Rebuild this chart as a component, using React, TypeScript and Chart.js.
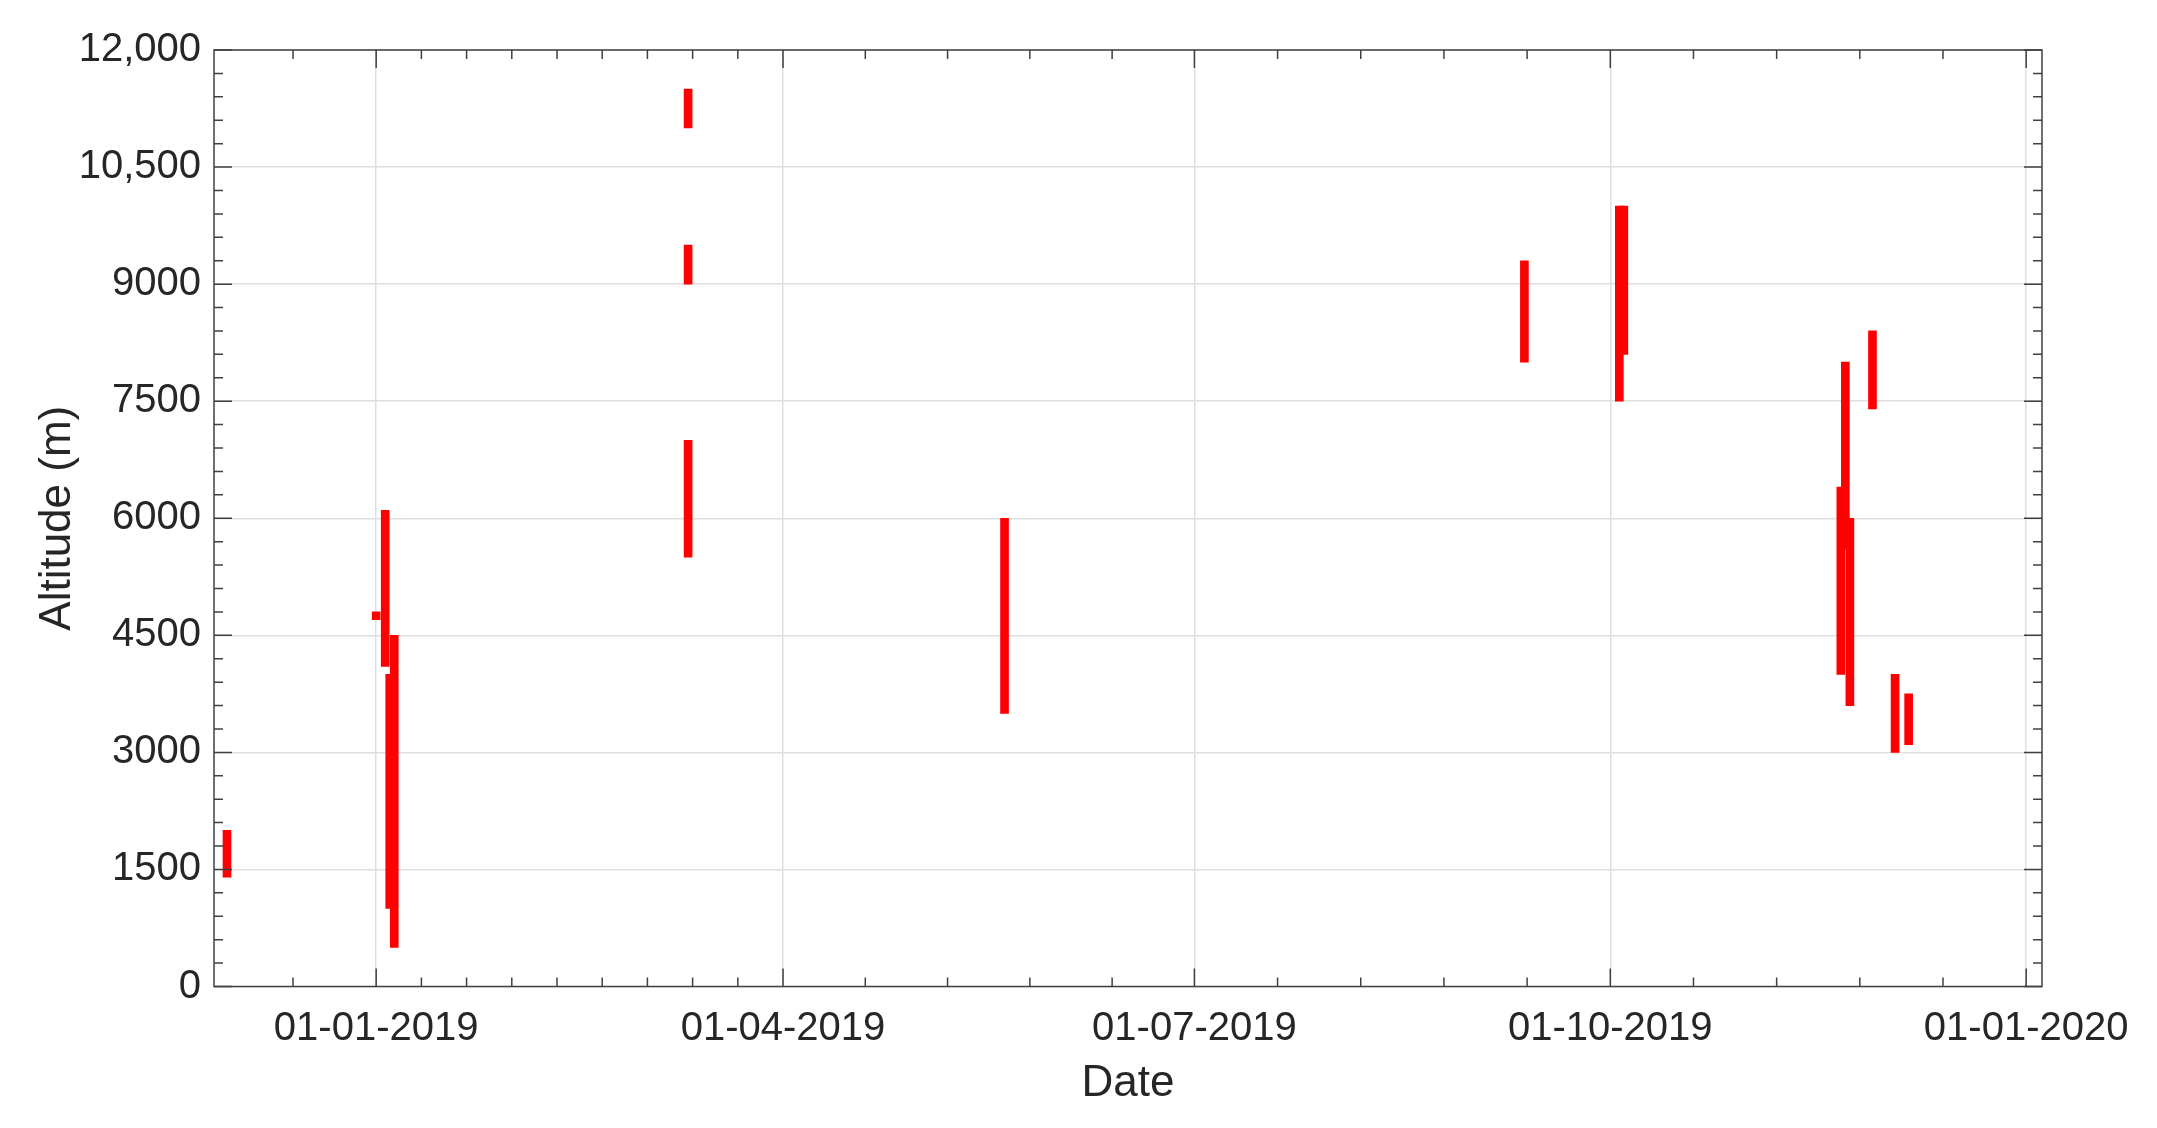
import { useEffect, useRef } from 'react';
import { Chart, registerables } from 'chart.js';

Chart.register(...registerables);

// one red bar per sounding: date, lowest and highest altitude (m)
const barDates = [
  '2018-11-29', '2019-01-01', '2019-01-03', '2019-01-04', '2019-01-05',
  '2019-03-11', '2019-03-11', '2019-03-11', '2019-05-20', '2019-09-12',
  '2019-10-03', '2019-10-04', '2019-11-21', '2019-11-22', '2019-11-23',
  '2019-11-28', '2019-12-03', '2019-12-06',
];
const altLow = [1400, 4700, 4100, 1000, 500, 11000, 9000, 5500, 3500, 8000, 7500, 8100, 4000, 5600, 3600, 7400, 3000, 3100];
const altHigh = [2000, 4800, 6100, 4000, 4500, 11500, 9500, 7000, 6000, 9300, 10000, 10000, 6400, 8000, 6000, 8400, 4000, 3750];

const yTicks = [0, 1500, 3000, 4500, 6000, 7500, 9000, 10500, 12000];
const yTickLabels = ['0', '1500', '3000', '4500', '6000', '7500', '9000', '10,500', '12,000'];
const xTickDates = ['2019-01-01', '2019-04-01', '2019-07-01', '2019-10-01', '2020-01-01'];
const xTickLabels = ['01-01-2019', '01-04-2019', '01-07-2019', '01-10-2019', '01-01-2020'];
const xLimits = ['2018-11-26T03:00', '2020-01-04T12:00'];

// quarter boundaries and how many minor steps each quarter gets
const quarterStarts = ['2018-10-01', '2019-01-01', '2019-04-01', '2019-07-01', '2019-10-01', '2020-01-01'];
const minorSteps = [5, 9, 5, 5, 5];

const ORIGIN = Date.UTC(2019, 0, 1);
const toDay = (s: string) => (Date.parse(s.length === 10 ? s : s + 'Z') - ORIGIN) / 86400000;

const TEXT = '#262626';
const AXIS = '#404040';

const axesBox = {
  id: 'axesBox',
  afterDatasetsDraw(chart: any) {
    const { ctx, chartArea: a, scales } = chart;
    const xs = scales.x;
    const ys = scales.y;
    ctx.save();
    ctx.strokeStyle = AXIS;
    ctx.lineWidth = 1.5;
    ctx.strokeRect(a.left, a.top, a.right - a.left, a.bottom - a.top);
    ctx.beginPath();
    const tickX = (v: number, len: number) => {
      const px = xs.getPixelForValue(v);
      if (px < a.left + 1 || px > a.right - 1) return;
      ctx.moveTo(px, a.bottom);
      ctx.lineTo(px, a.bottom - len);
      ctx.moveTo(px, a.top);
      ctx.lineTo(px, a.top + len);
    };
    const tickY = (v: number, len: number) => {
      const py = ys.getPixelForValue(v);
      ctx.moveTo(a.left, py);
      ctx.lineTo(a.left + len, py);
      ctx.moveTo(a.right, py);
      ctx.lineTo(a.right - len, py);
    };
    xTickDates.forEach((d) => tickX(toDay(d), 18));
    for (let q = 0; q < minorSteps.length; q++) {
      const d0 = toDay(quarterStarts[q]);
      const d1 = toDay(quarterStarts[q + 1]);
      for (let k = 1; k < minorSteps[q]; k++) tickX(d0 + ((d1 - d0) * k) / minorSteps[q], 9);
    }
    yTicks.forEach((v) => tickY(v, 18));
    for (let v = 300; v < 12000; v += 300) {
      if (v % 1500 !== 0) tickY(v, 9);
    }
    ctx.stroke();
    ctx.restore();
  },
};

export default function App() {
  const canvasRef = useRef<HTMLCanvasElement>(null);
  const chartRef = useRef<Chart | null>(null);

  useEffect(() => {
    if (!canvasRef.current) return;
    if (chartRef.current) chartRef.current.destroy();

    Chart.defaults.font.family = '"Liberation Sans", Arial, Helvetica, sans-serif';
    Chart.defaults.color = TEXT;

    chartRef.current = new Chart(canvasRef.current, {
      type: 'bar',
      data: {
        datasets: [
          {
            data: barDates.map((d, i) => ({ x: toDay(d), y: [altLow[i], altHigh[i]] })) as any,
            backgroundColor: '#ff0000',
            borderWidth: 0,
            barThickness: 8,
          },
        ],
      },
      options: {
        animation: false,
        responsive: true,
        maintainAspectRatio: false,
        events: [],
        layout: { padding: { top: 50, right: 115, left: 0, bottom: 0 } },
        plugins: {
          legend: { display: false },
          tooltip: { enabled: false },
        },
        scales: {
          x: {
            type: 'linear',
            min: toDay(xLimits[0]),
            max: toDay(xLimits[1]),
            offset: false,
            afterBuildTicks: (s: any) => {
              s.ticks = xTickDates.map((d) => ({ value: toDay(d) }));
            },
            afterFit: (s: any) => {
              s.height = 141.5;
            },
            ticks: {
              callback: (_v: any, i: number) => xTickLabels[i],
              autoSkip: false,
              maxRotation: 0,
              font: { size: 40 },
              color: TEXT,
              padding: 18,
            },
            grid: { offset: false, color: '#dfdfdf', lineWidth: 1.5, drawTicks: false },
            border: { display: false },
            title: {
              display: true,
              text: 'Date',
              font: { size: 44 },
              color: TEXT,
              padding: { bottom: 18 },
            },
          },
          y: {
            type: 'linear',
            min: 0,
            max: 12000,
            afterBuildTicks: (s: any) => {
              s.ticks = yTicks.map((v) => ({ value: v }));
            },
            afterFit: (s: any) => {
              s.width = 214;
            },
            ticks: {
              callback: (v: any) => yTickLabels[yTicks.indexOf(Number(v))] ?? '',
              font: { size: 40 },
              color: TEXT,
              padding: 13,
            },
            grid: { color: '#dfdfdf', lineWidth: 1.5, drawTicks: false },
            border: { display: false },
            title: {
              display: true,
              text: 'Altitude (m)',
              font: { size: 44 },
              color: TEXT,
              padding: { top: 31 },
            },
          },
        },
      },
      plugins: [axesBox],
    });

    return () => {
      if (chartRef.current) {
        chartRef.current.destroy();
        chartRef.current = null;
      }
    };
  }, []);

  return (
    <div
      style={{
        position: 'fixed',
        left: 0,
        top: 0,
        width: '2157px',
        height: '1128px',
        background: '#ffffff',
      }}
    >
      <canvas ref={canvasRef}></canvas>
    </div>
  );
}
